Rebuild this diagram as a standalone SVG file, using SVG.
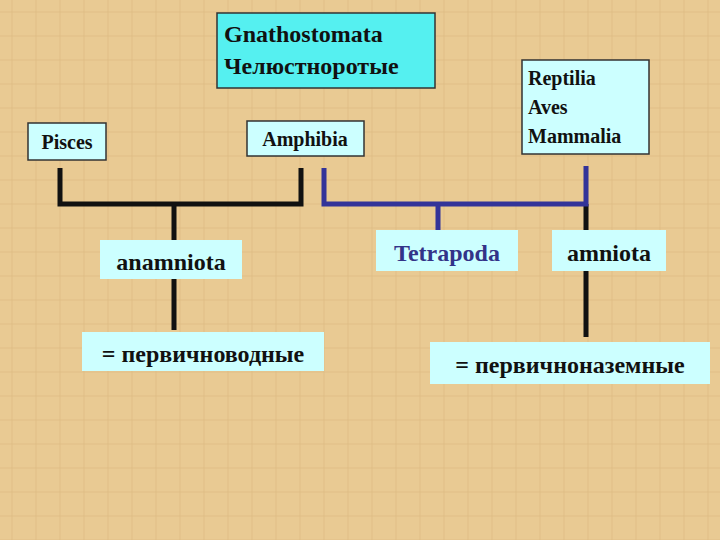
<svg xmlns="http://www.w3.org/2000/svg" width="720" height="540" viewBox="0 0 720 540">
<style>
.b{fill:#ccffff;stroke:#333;stroke-width:1.5}
.t{font-family:"Liberation Serif",serif;font-weight:bold;fill:#111}
.k{stroke:#111;stroke-width:5;fill:none}
.u{stroke:#333399;stroke-width:5;fill:none}
</style>
<defs>
<pattern id="p" width="24" height="24" patternUnits="userSpaceOnUse">
<rect width="24" height="24" fill="#e9ca93"/>
<path d="M0 12H24M12 0V24" stroke="#d9b57c" stroke-width="1" opacity="0.6"/>
</pattern>
</defs>
<rect width="720" height="540" fill="url(#p)"/>
<g id="connectors">
<path class="k" d="M60 168V204H301V168M174 204V240M174 279V330M586 204V230M586 271V337"/>
<path class="u" d="M324 168V204H586V166M438 204V230"/>
</g>
<g id="gnathostomata"><rect x="217" y="13" width="218" height="75" fill="#55f0f0" stroke="#333" stroke-width="1.5"/>
<text class="t" x="224" y="42" font-size="24">Gnathostomata</text><text class="t" x="224" y="74" font-size="24">Челюстноротые</text></g>
<g id="pisces"><rect class="b" x="28" y="123" width="78" height="37"/><text class="t" x="67" y="149" font-size="20" text-anchor="middle">Pisces</text></g>
<g id="amphibia"><rect class="b" x="247" y="121" width="117" height="35"/><text class="t" x="305" y="146" font-size="20" text-anchor="middle">Amphibia</text></g>
<g id="reptilia"><rect class="b" x="522" y="60" width="127" height="94"/>
<text class="t" x="528" y="85" font-size="20">Reptilia</text><text class="t" x="528" y="114" font-size="20">Aves</text><text class="t" x="528" y="143" font-size="20">Mammalia</text></g>
<g id="anamniota"><rect x="100" y="240" width="142" height="39" fill="#ccffff"/><text class="t" x="171" y="270" font-size="24" text-anchor="middle">anamniota</text></g>
<g id="tetrapoda"><rect x="376" y="230" width="142" height="41" fill="#ccffff"/><text class="t" x="447" y="261" font-size="24" text-anchor="middle" style="fill:#333388">Tetrapoda</text></g>
<g id="amniota"><rect x="552" y="230" width="114" height="41" fill="#ccffff"/><text class="t" x="609" y="261" font-size="24" text-anchor="middle">amniota</text></g>
<g id="pervichnovodnye"><rect x="82" y="332" width="242" height="39" fill="#ccffff"/><text class="t" x="203" y="362" font-size="24" text-anchor="middle">= первичноводные</text></g>
<g id="pervichnonazemnye"><rect x="430" y="342" width="280" height="42" fill="#ccffff"/><text class="t" x="570" y="373" font-size="24" text-anchor="middle">= первичноназемные</text></g>
</svg>
